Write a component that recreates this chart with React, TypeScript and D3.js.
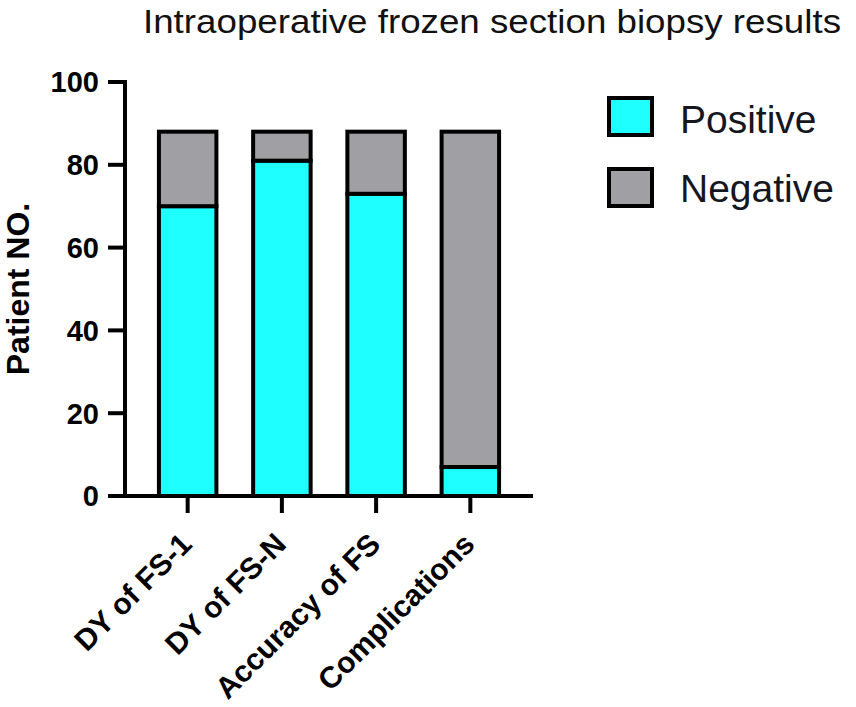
import React from 'react';
import * as d3 from 'd3';

const categories = ['DY of FS-1', 'DY of FS-N', 'Accuracy of FS', 'Complications'];
const positive = [70, 81, 73, 7];
const negative = [18, 7, 15, 81];
const seriesNames = ['Positive', 'Negative'];
const seriesColors = ['#1EFFFF', '#A0A0A4'];
const yTicks = [0, 20, 40, 60, 80, 100];

const width = 856;
const height = 707;
const margin = { top: 82, right: 323, bottom: 211, left: 125 };

const App: React.FC = () => {
  const xScale = d3
    .scaleBand<string>()
    .domain(categories)
    .range([margin.left, width - margin.right])
    .paddingInner(0.39)
    .paddingOuter(0.36);
  const yScale = d3
    .scaleLinear()
    .domain([0, 100])
    .range([height - margin.bottom, margin.top]);

  const rows = categories.map((c, i) => ({ cat: c, Positive: positive[i], Negative: negative[i] }));
  const stacked = d3.stack<any>().keys(seriesNames)(rows);

  const y0 = yScale(0);
  const axisFont = 'Liberation Sans, Arial, Helvetica, sans-serif';

  return (
    <div style={{ position: 'absolute', left: 0, top: 0 }}>
      <svg width={width} height={height} style={{ display: 'block', background: '#fff' }}>
        {/* title */}
        <text
          x={492}
          y={33}
          textAnchor="middle"
          fontFamily={axisFont}
          fontSize={34}
          fill="#111"
          textLength={698}
          lengthAdjust="spacingAndGlyphs"
        >
          Intraoperative frozen section biopsy results
        </text>

        {/* bars */}
        {stacked.map((layer, li) =>
          layer.map((d, i) => (
            <rect
              key={`${li}-${i}`}
              x={xScale(categories[i])}
              y={yScale(d[1])}
              width={xScale.bandwidth()}
              height={yScale(d[0]) - yScale(d[1])}
              fill={seriesColors[li]}
              stroke="#000"
              strokeWidth={4}
            />
          ))
        )}

        {/* y axis */}
        <line x1={margin.left} x2={margin.left} y1={yScale(100) - 2} y2={y0 + 2} stroke="#000" strokeWidth={4} />
        {yTicks.map((t) => (
          <g key={t}>
            <line x1={margin.left - 17} x2={margin.left} y1={yScale(t)} y2={yScale(t)} stroke="#000" strokeWidth={4} />
            <text
              x={margin.left - 26}
              y={yScale(t)}
              dy="0.36em"
              textAnchor="end"
              fontFamily={axisFont}
              fontWeight="bold"
              fontSize={29}
              fill="#000"
            >
              {t}
            </text>
          </g>
        ))}
        <text
          transform={`translate(29, ${yScale(50)}) rotate(-90)`}
          textAnchor="middle"
          fontFamily={axisFont}
          fontWeight="bold"
          fontSize={32}
          fill="#000"
        >
          Patient NO.
        </text>

        {/* x axis */}
        <line x1={margin.left} x2={width - margin.right} y1={y0} y2={y0} stroke="#000" strokeWidth={4} />
        {categories.map((c) => {
          const cx = (xScale(c) ?? 0) + xScale.bandwidth() / 2;
          return (
            <g key={c}>
              <line x1={cx} x2={cx} y1={y0} y2={y0 + 17} stroke="#000" strokeWidth={4} />
              <text
                transform={`translate(${cx + 6}, ${y0 + 50}) rotate(-45)`}
                textAnchor="end"
                fontFamily={axisFont}
                fontWeight="bold"
                fontSize={30}
                fill="#000"
              >
                {c}
              </text>
            </g>
          );
        })}

        {/* legend */}
        {seriesNames.map((s, i) => (
          <g key={s}>
            <rect x={609} y={98 + i * 71} width={43} height={37} fill={seriesColors[i]} stroke="#000" strokeWidth={4} />
            <text x={680} y={133 + i * 69} fontFamily={axisFont} fontSize={39} fill="#16161f">
              {s}
            </text>
          </g>
        ))}
      </svg>
    </div>
  );
};

export default App;
